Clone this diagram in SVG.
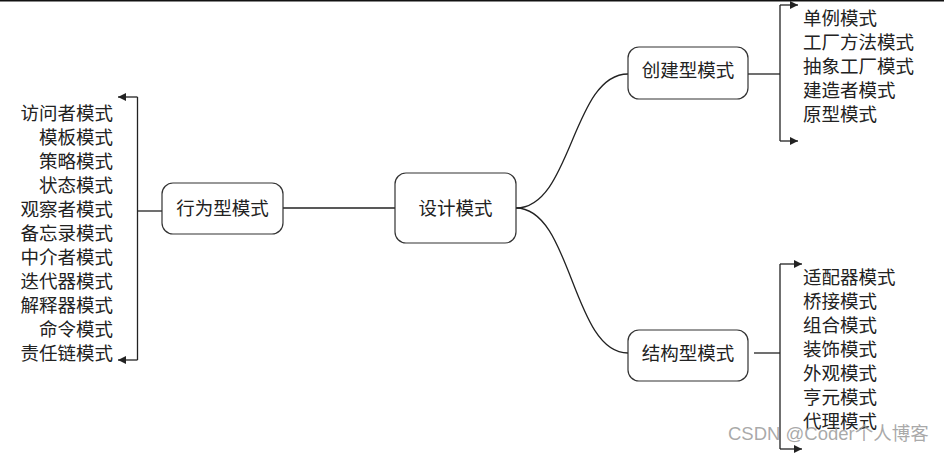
<svg xmlns="http://www.w3.org/2000/svg" width="944" height="453" viewBox="0 0 944 453">
<style>
.box{fill:#fff;stroke:#333;stroke-width:1.2}
.lbl{font-family:"Noto Sans CJK SC","Noto Sans CJK JP",sans-serif;font-size:18.5px;fill:#222}
.mid{text-anchor:middle}
.end{text-anchor:end}
.con{fill:none;stroke:#222;stroke-width:1.3}
.wm{font-family:"Liberation Sans","Noto Sans CJK SC",sans-serif;font-size:18.5px;fill:#9a9a9a;fill-opacity:0.85}
</style>
<defs>
<marker id="ah" viewBox="0 0 10 10" refX="10" refY="5" markerWidth="8" markerHeight="8" markerUnits="userSpaceOnUse" orient="auto">
<path d="M0,0 L10,5 L0,10 Z" fill="#222"/>
</marker>
</defs>
<rect width="944" height="453" fill="#fff"/>
<line x1="0" y1="0.75" x2="944" y2="0.75" stroke="#111" stroke-width="1.5"/>
<g id="connectors">
<line class="con" x1="283" y1="208" x2="395" y2="208"/>
<path class="con" d="M516,208 C572,208 572,74 628,74"/>
<path class="con" d="M516,208 C572,208 572,353 628,353"/>
<line class="con" x1="162" y1="211" x2="137.5" y2="211"/>
<path class="con" d="M137.5,97 L137.5,360"/>
<path class="con" d="M137.5,97 L118,97" marker-end="url(#ah)"/>
<path class="con" d="M137.5,360 L118,360" marker-end="url(#ah)"/>
<line class="con" x1="748" y1="74" x2="780" y2="74"/>
<path class="con" d="M780,5 L780,141"/>
<path class="con" d="M780,5 L798,5" marker-end="url(#ah)"/>
<path class="con" d="M780,141 L798,141" marker-end="url(#ah)"/>
<line class="con" x1="754" y1="353" x2="780" y2="353"/>
<path class="con" d="M780,264 L780,449"/>
<path class="con" d="M780,264 L802,264" marker-end="url(#ah)"/>
<path class="con" d="M780,449 L802,449" marker-end="url(#ah)"/>
</g>
<g id="node-design">
<rect class="box" x="395" y="173" width="121" height="70" rx="11"/>
<text class="lbl mid" x="455.5" y="215">设计模式</text>
</g>
<g id="node-behavioral">
<rect class="box" x="162" y="183" width="121" height="51" rx="11"/>
<text class="lbl mid" x="222.5" y="215">行为型模式</text>
</g>
<g id="node-creational">
<rect class="box" x="628" y="47" width="120" height="52" rx="11"/>
<text class="lbl mid" x="688" y="77">创建型模式</text>
</g>
<g id="node-structural">
<rect class="box" x="628" y="330" width="120" height="51" rx="11"/>
<text class="lbl mid" x="688" y="360">结构型模式</text>
</g>
<g id="list-behavioral">
<text class="lbl end" x="113" y="120">访问者模式</text>
<text class="lbl end" x="113" y="144">模板模式</text>
<text class="lbl end" x="113" y="168">策略模式</text>
<text class="lbl end" x="113" y="192">状态模式</text>
<text class="lbl end" x="113" y="216">观察者模式</text>
<text class="lbl end" x="113" y="240">备忘录模式</text>
<text class="lbl end" x="113" y="264">中介者模式</text>
<text class="lbl end" x="113" y="288">迭代器模式</text>
<text class="lbl end" x="113" y="312">解释器模式</text>
<text class="lbl end" x="113" y="336">命令模式</text>
<text class="lbl end" x="113" y="360">责任链模式</text>
</g>
<g id="list-creational">
<text class="lbl" x="803" y="25">单例模式</text>
<text class="lbl" x="803" y="49">工厂方法模式</text>
<text class="lbl" x="803" y="73">抽象工厂模式</text>
<text class="lbl" x="803" y="97">建造者模式</text>
<text class="lbl" x="803" y="121">原型模式</text>
</g>
<g id="list-structural">
<text class="lbl" x="803" y="284">适配器模式</text>
<text class="lbl" x="803" y="308">桥接模式</text>
<text class="lbl" x="803" y="332">组合模式</text>
<text class="lbl" x="803" y="356">装饰模式</text>
<text class="lbl" x="803" y="380">外观模式</text>
<text class="lbl" x="803" y="404">亨元模式</text>
<text class="lbl" x="803" y="428">代理模式</text>
</g>
<text class="wm" x="728" y="440">CSDN @Coder个人博客</text>
</svg>
